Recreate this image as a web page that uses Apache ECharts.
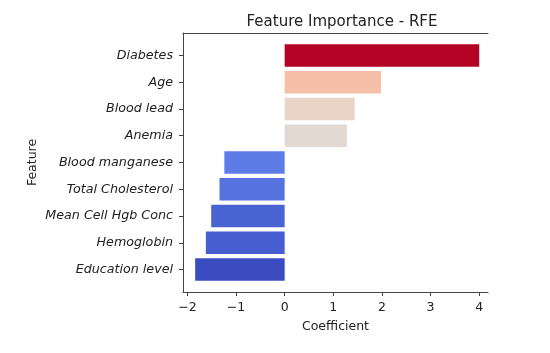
<!DOCTYPE html>
<html>
<head>
<meta charset="utf-8">
<script src="https://cdn.jsdelivr.net/npm/echarts@6/dist/echarts.min.js"></script>
<style>
html,body{margin:0;padding:0;background:#fff;}
#chart{width:550px;height:353px;}
</style>
</head>
<body>
<div id="chart"></div>
<script>
// 数据
var features = ['Education level', 'Hemoglobin', 'Mean Cell Hgb Conc', 'Total Cholesterol',
    'Blood manganese', 'Anemia', 'Blood lead', 'Age', 'Diabetes'];
var coefs = [-1.84, -1.62, -1.51, -1.34, -1.24, 1.28, 1.44, 1.98, 4.0];
var barColors = ['#3b4cc0', '#465ecf', '#4a63d3', '#5673e0', '#5d7ce6',
    '#e3d9d3', '#ead4c8', '#f5c0a7', '#b40426'];
var xTicks = [-2, -1, 0, 1, 2, 3, 4];

var chart = echarts.init(document.getElementById('chart'));
var font = 'DejaVu Sans';
var xMin = -2.09, xMax = 4.18;
var yMin = -0.84, yMax = 8.84;   // matplotlib 默认边距
var L = 183, R = 550 - 488, T = 33, B = 353 - 292;
var unit = (292 - 33) / (yMax - yMin);
var yTicks = [0, 1, 2, 3, 4, 5, 6, 7, 8];

var option = {
    animation: false,
    title: {
        text: 'Feature Importance - RFE',
        left: 337, top: 10, textAlign: 'center',
        textStyle: {fontFamily: font, fontSize: 15, fontWeight: 'normal', color: '#222'}
    },
    grid: [
        // 柱子
        {left: L, right: R, top: T + (-yMin - 0.5) * unit, bottom: B + (yMax - 8 - 0.5) * unit},
        // 坐标框
        {left: L, right: R, top: T, bottom: B}
    ],
    xAxis: [
        {gridIndex: 0, type: 'value', min: xMin, max: xMax, show: false},
        {
            gridIndex: 1, type: 'value', min: xMin, max: xMax,
            name: 'Coefficient', nameLocation: 'middle', nameGap: 28,
            nameTextStyle: {fontFamily: font, fontSize: 12.5, color: '#222'},
            axisLine: {onZero: false, lineStyle: {color: '#444', width: 1}},
            axisTick: {length: 4, lineStyle: {color: '#444'}, customValues: xTicks},
            axisLabel: {fontFamily: font, fontSize: 12.5, color: '#222', margin: 9,
                customValues: xTicks,
                formatter: function (v) { return String(v).replace('-', '\u2212'); }},
            splitLine: {show: false}
        },
        {
            gridIndex: 1, type: 'value', min: xMin, max: xMax, position: 'top',
            axisLine: {show: true, onZero: false, lineStyle: {color: '#444', width: 1}},
            axisTick: {show: false}, axisLabel: {show: false}, splitLine: {show: false}
        }
    ],
    yAxis: [
        {gridIndex: 0, type: 'category', data: features, show: false},
        {
            gridIndex: 1, type: 'value', min: yMin, max: yMax,
            name: 'Feature', nameLocation: 'middle', nameGap: 144, nameRotate: 90,
            nameMoveOverlap: false,
            nameTextStyle: {fontFamily: font, fontSize: 12.5, color: '#222'},
            axisLine: {show: true, onZero: false, lineStyle: {color: '#444', width: 1}},
            axisTick: {show: true, length: 4, lineStyle: {color: '#444'}, customValues: yTicks},
            axisLabel: {fontFamily: font, fontSize: 12.7, fontStyle: 'italic', color: '#222', margin: 10,
                customValues: yTicks,
                formatter: function (v) { return features[Math.round(v)]; }},
            splitLine: {show: false}
        }
    ],
    series: [{
        type: 'bar',
        xAxisIndex: 0, yAxisIndex: 0,
        barWidth: '84%',
        data: coefs.map(function (v, i) {
            return {value: v, itemStyle: {color: barColors[i]}};
        })
    }]
};
chart.setOption(option);
</script>
</body>
</html>
